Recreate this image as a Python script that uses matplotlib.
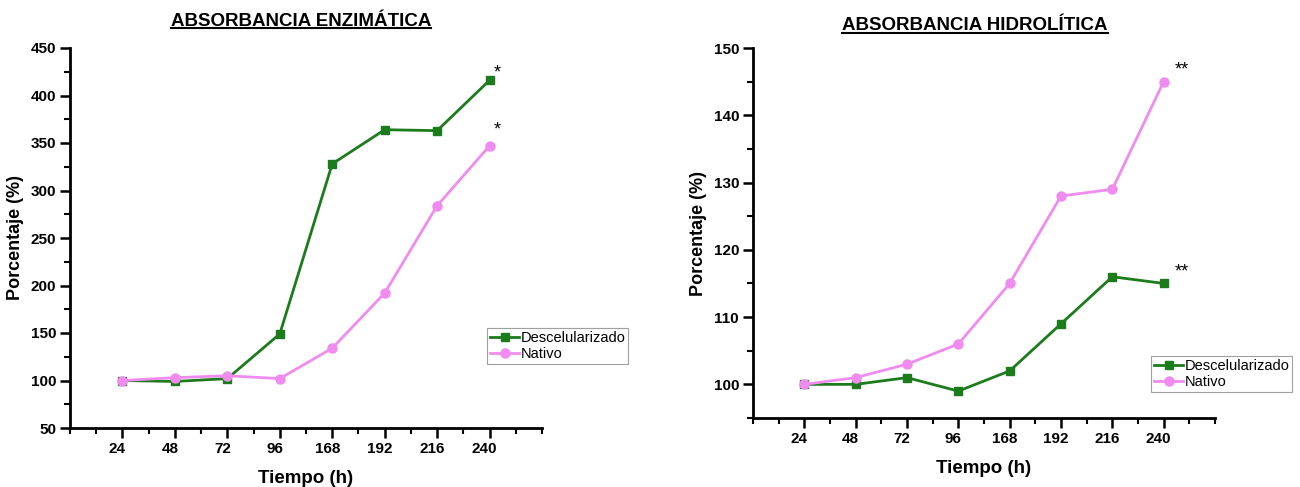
import matplotlib
matplotlib.use("Agg")
import matplotlib.pyplot as plt
import matplotlib.transforms as mtransforms
from matplotlib.lines import Line2D
from matplotlib.ticker import MultipleLocator

plt.rcParams["font.family"] = ["Liberation Sans", "DejaVu Sans"]

# Data
tiempos = ["24", "48", "72", "96", "168", "192", "216", "240"]

enz_descel = [100, 99, 102, 149, 328, 364, 363, 416]
enz_nativo = [100, 103, 105, 102, 134, 192, 284, 347]

hid_descel = [100, 100, 101, 99, 102, 109, 116, 115]
hid_nativo = [100, 101, 103, 106, 115, 128, 129, 145]

GREEN = "#1c7c1c"
PINK = "#f08cf0"

fig = plt.figure(figsize=(13, 4.87), dpi=100)
ax1 = fig.add_axes([70 / 1300, 1 - 428 / 487, 472 / 1300, 380 / 487])
ax2 = fig.add_axes([753 / 1300, 1 - 418 / 487, 462 / 1300, 370 / 487])

x = list(range(1, len(tiempos) + 1))


def style_axis(ax, descel, nativo, ylim, ymajor, yminor):
    ax.plot(x, descel, color=GREEN, lw=2, marker="s", ms=5.5, label="Descelularizado", zorder=3)
    ax.plot(x, nativo, color=PINK, lw=2, marker="o", ms=6.5, label="Nativo", zorder=3)
    ax.set_xlim(0, 9)
    ax.set_ylim(*ylim)
    ax.set_xticks(x)
    ax.set_xticklabels(tiempos)
    ax.xaxis.set_minor_locator(MultipleLocator(0.5))
    ax.yaxis.set_major_locator(MultipleLocator(ymajor))
    ax.yaxis.set_minor_locator(MultipleLocator(yminor))
    for s in ("top", "right"):
        ax.spines[s].set_visible(False)
    for s in ("left", "bottom"):
        ax.spines[s].set_linewidth(2)
    ax.tick_params(which="major", direction="out", length=7, width=1.8, labelsize=11, pad=3)
    ax.tick_params(which="minor", direction="out", length=4, width=1.5)
    for lab in ax.get_xticklabels() + ax.get_yticklabels():
        lab.set_fontweight("bold")
    shift = mtransforms.ScaledTranslation(-5 / 100, 0, fig.dpi_scale_trans)
    for lab in ax.get_xticklabels():
        lab.set_transform(lab.get_transform() + shift)
    ax.set_xlabel("Tiempo (h)", fontsize=13.5, fontweight="bold", labelpad=10)
    ax.set_ylabel("Porcentaje (%)", fontsize=13, fontweight="bold", labelpad=5)


style_axis(ax1, enz_descel, enz_nativo, (50, 450), 50, 25)
style_axis(ax2, hid_descel, hid_nativo, (95, 150), 10, 5)

leg_kw = dict(fontsize=10.5, frameon=True, fancybox=False, handlelength=2.0,
              handletextpad=0.1, borderpad=0.2, borderaxespad=0, labelspacing=0.15,
              bbox_transform=fig.transFigure)
l1 = ax1.legend(loc="upper left", bbox_to_anchor=(487 / 1300, 1 - 328 / 487), **leg_kw)
l2 = ax2.legend(loc="upper left", bbox_to_anchor=(1151 / 1300, 1 - 356 / 487), **leg_kw)
for leg in (l1, l2):
    leg.get_frame().set_edgecolor("#888888")
    leg.get_frame().set_linewidth(0.8)

# significance marks
ax1.text(8.15, 424, "*", fontsize=13, ha="center", va="center")
ax1.text(8.15, 364, "*", fontsize=13, ha="center", va="center")
ax2.text(8.35, 146.7, "**", fontsize=13, ha="center", va="center")
ax2.text(8.35, 116.7, "**", fontsize=13, ha="center", va="center")

# underlined titles
t1 = fig.text(301 / 1300, 1 - 21 / 487, "ABSORBANCIA ENZIMÁTICA", fontsize=13.5,
              fontweight="bold", ha="center", va="center")
t2 = fig.text(975 / 1300, 1 - 26 / 487, "ABSORBANCIA HIDROLÍTICA", fontsize=13.5,
              fontweight="bold", ha="center", va="center")
renderer = fig.canvas.get_renderer()
for t in (t1, t2):
    bb = t.get_window_extent(renderer).transformed(fig.transFigure.inverted())
    y = bb.y0 + 0.004
    fig.add_artist(Line2D([bb.x0, bb.x1], [y, y], color="black", lw=1.5, transform=fig.transFigure))

fig.savefig("out.png", dpi=100)
